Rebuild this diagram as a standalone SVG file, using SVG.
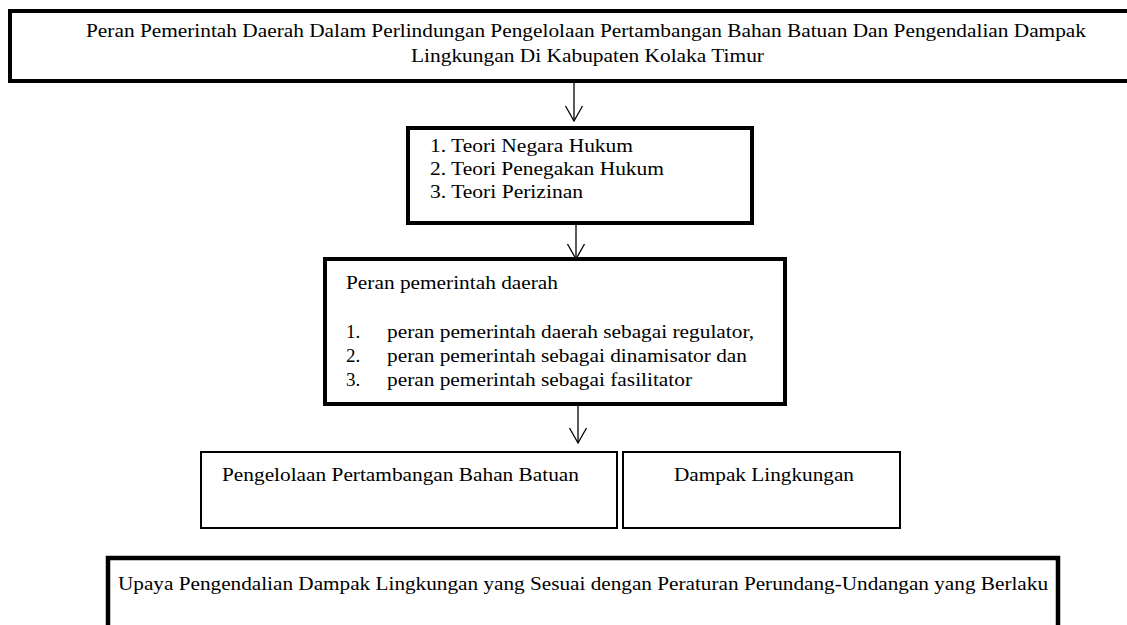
<svg xmlns="http://www.w3.org/2000/svg" width="1127" height="625" viewBox="0 0 1127 625">
<style>
text{font-family:"Liberation Serif","Times New Roman",serif;font-size:19px;fill:#000}
.thick{fill:#fff;stroke:#000;stroke-width:4}
.thin{fill:#fff;stroke:#000;stroke-width:2}
.conn line{stroke:#000;stroke-width:1.3}
</style>
<defs>
<marker id="v" viewBox="-1 -10 18 20" markerWidth="18" markerHeight="20" refX="15" refY="0" orient="auto" markerUnits="userSpaceOnUse">
<path d="M0,-8.5 L15,0 L0,8.5" fill="none" stroke="#000" stroke-width="1.3"/>
</marker>
</defs>
<rect width="1127" height="625" fill="#fff"/>
<g id="title">
<rect class="thick" x="10" y="11" width="1130" height="70"/>
<text x="86" y="37" textLength="1000" lengthAdjust="spacingAndGlyphs">Peran Pemerintah Daerah Dalam Perlindungan Pengelolaan Pertambangan Bahan Batuan Dan Pengendalian Dampak</text>
<text x="411" y="62" textLength="353" lengthAdjust="spacingAndGlyphs">Lingkungan Di Kabupaten Kolaka Timur</text>
</g>
<g id="teori">
<rect class="thick" x="408" y="128" width="344" height="95"/>
<text x="430" y="152" textLength="203" lengthAdjust="spacingAndGlyphs">1. Teori Negara Hukum</text>
<text x="430" y="175" textLength="234" lengthAdjust="spacingAndGlyphs">2. Teori Penegakan Hukum</text>
<text x="430" y="198" textLength="153" lengthAdjust="spacingAndGlyphs">3. Teori Perizinan</text>
</g>
<g id="peran">
<rect class="thick" x="325" y="259" width="460" height="145"/>
<text x="346" y="289" textLength="212" lengthAdjust="spacingAndGlyphs">Peran pemerintah daerah</text>
<text x="346" y="338">1.</text><text x="387" y="338" textLength="367" lengthAdjust="spacingAndGlyphs">peran pemerintah daerah sebagai regulator,</text>
<text x="346" y="362">2.</text><text x="387" y="362" textLength="360" lengthAdjust="spacingAndGlyphs">peran pemerintah sebagai dinamisator dan</text>
<text x="346" y="386">3.</text><text x="387" y="386" textLength="305" lengthAdjust="spacingAndGlyphs">peran pemerintah sebagai fasilitator</text>
</g>
<g id="pengelolaan">
<rect class="thin" x="201" y="452" width="416" height="76"/>
<text x="222" y="481" textLength="357" lengthAdjust="spacingAndGlyphs">Pengelolaan Pertambangan Bahan Batuan</text>
</g>
<g id="dampak">
<rect class="thin" x="623" y="452" width="277" height="76"/>
<text x="674" y="481" textLength="180" lengthAdjust="spacingAndGlyphs">Dampak Lingkungan</text>
</g>
<g id="upaya">
<path d="M108,640 V558 H1058 V640" fill="#fff" stroke="#000" stroke-width="4.5"/>
<text x="118" y="590" textLength="930" lengthAdjust="spacingAndGlyphs">Upaya Pengendalian Dampak Lingkungan yang Sesuai dengan Peraturan Perundang-Undangan yang Berlaku</text>
</g>
<g id="connectors" class="conn">
<line x1="574" y1="83" x2="574" y2="121" marker-end="url(#v)"/>
<line x1="576" y1="225" x2="576" y2="259" marker-end="url(#v)"/>
<line x1="578" y1="406" x2="578" y2="443" marker-end="url(#v)"/>
</g>
</svg>
